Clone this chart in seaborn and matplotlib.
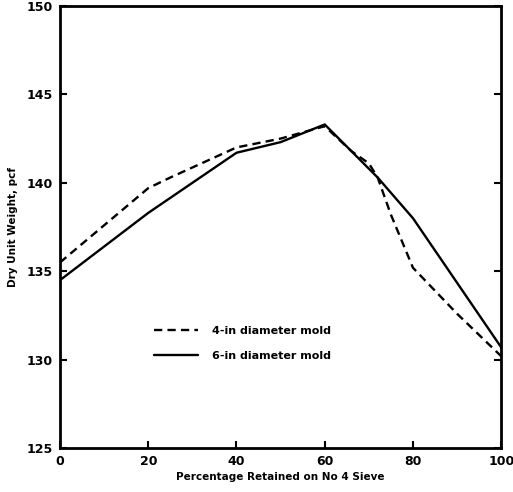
import matplotlib
matplotlib.use("Agg")
import matplotlib.pyplot as plt
import pandas as pd
import seaborn as sns

# 4-in diameter mold (dashed)
pct_4in = [0, 20, 25, 40, 50, 60, 66, 70, 72, 75, 80, 90, 100]
dens_4in = [135.5, 139.7, 140.3, 142.0, 142.5, 143.2, 141.8, 141.1, 140.3, 138.2, 135.2, 132.6, 130.2]

# 6-in diameter mold (solid)
pct_6in = [0, 20, 40, 50, 60, 72, 80, 100]
dens_6in = [134.5, 138.3, 141.7, 142.3, 143.3, 140.3, 138.0, 130.7]

x_ticks = [0, 20, 40, 60, 80, 100]
y_ticks = [125, 130, 135, 140, 145, 150]

df = pd.concat([
    pd.DataFrame({'pct': pct_4in, 'dens': dens_4in, 'mold': '4-in diameter mold'}),
    pd.DataFrame({'pct': pct_6in, 'dens': dens_6in, 'mold': '6-in diameter mold'}),
])

sns.set_style("ticks")
plt.rcParams['font.family'] = ['DejaVu Sans']
plt.rcParams['font.weight'] = 'bold'
plt.rcParams['text.color'] = 'black'
plt.rcParams['axes.labelcolor'] = 'black'
plt.rcParams['xtick.color'] = 'black'
plt.rcParams['ytick.color'] = 'black'

fig = plt.figure(figsize=(5.13, 4.92), dpi=100)
ax = fig.add_axes([0.117, 0.089, 0.860, 0.899])

sns.lineplot(
    data=df, x='pct', y='dens', style='mold',
    dashes={'4-in diameter mold': (3.5, 2.2), '6-in diameter mold': ''},
    color='black', linewidth=1.7, sort=False, estimator=None, ax=ax
)

ax.set_xlim(0, 100)
ax.set_ylim(125, 150)
ax.set_xticks(x_ticks)
ax.set_yticks(y_ticks)
ax.tick_params(direction='in', length=5, width=1.5, labelsize=9, pad=5,
               right=True, left=True, colors='black')
for lab in ax.get_xticklabels() + ax.get_yticklabels():
    lab.set_fontweight('bold')
for s in ax.spines.values():
    s.set_linewidth(2)
    s.set_color('black')

ax.set_xlabel('Percentage Retained on No 4 Sieve', fontsize=7.5, fontweight='bold', labelpad=3)
ax.set_ylabel('Dry Unit Weight, pcf', fontsize=7.5, fontweight='bold', labelpad=6)

leg = ax.legend(loc='upper left', bbox_to_anchor=(0.19, 0.30), frameon=False,
                fontsize=8, handlelength=4, handletextpad=1.2, labelspacing=1.4)
for t in leg.get_texts():
    t.set_fontweight('bold')
    t.set_color('black')

fig.savefig('out.png', dpi=100)
